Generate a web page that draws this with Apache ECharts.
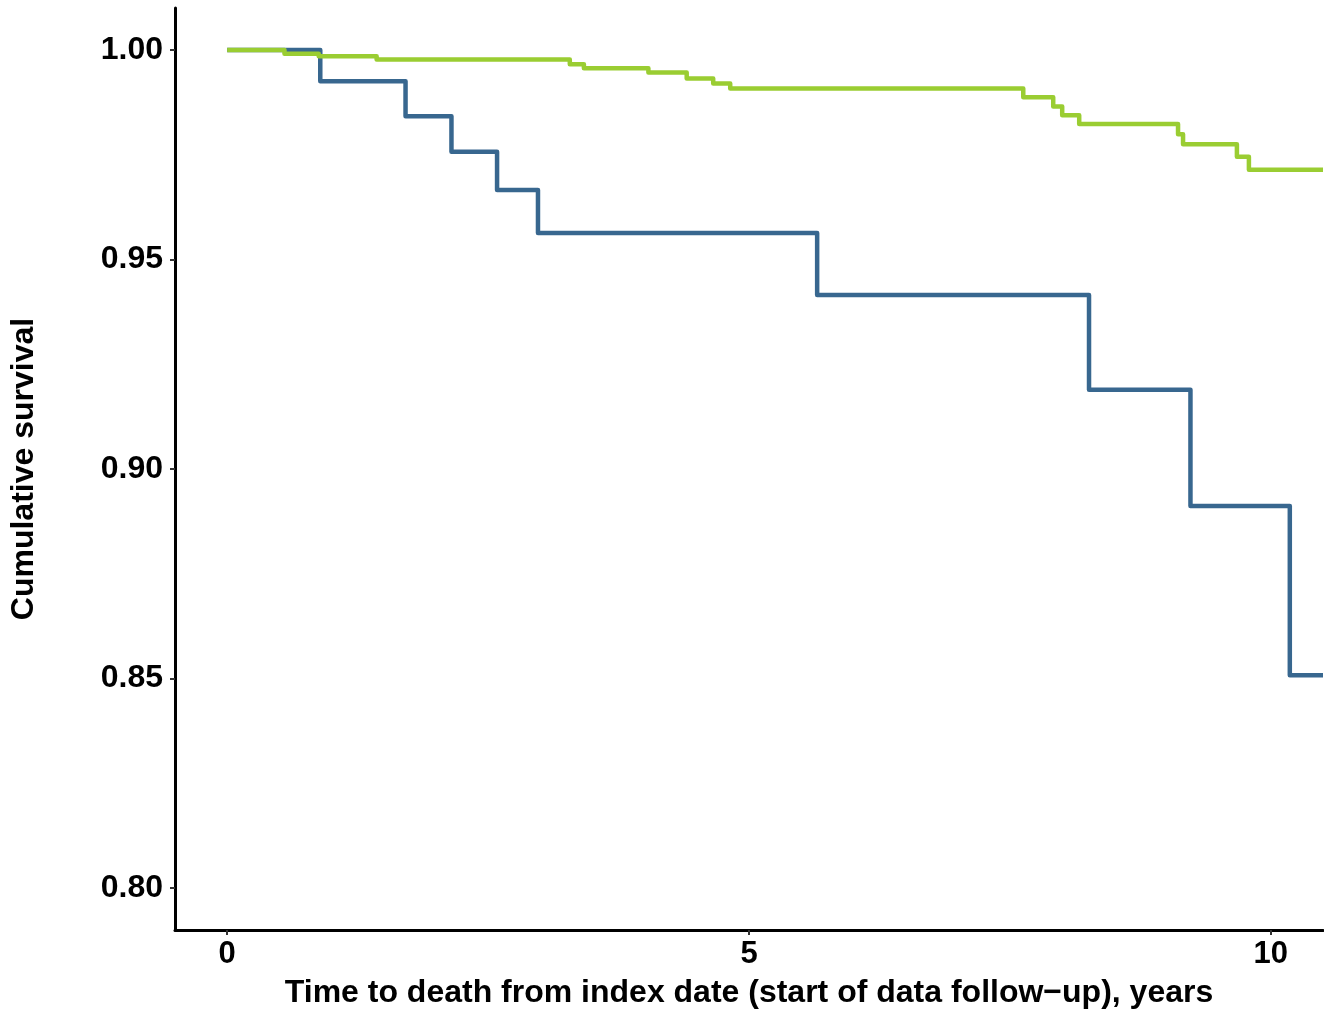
<!DOCTYPE html>
<html>
<head>
<meta charset="utf-8">
<script src="https://cdn.jsdelivr.net/npm/echarts@6/dist/echarts.min.js"></script>
<style>
html,body{margin:0;padding:0;background:#fff;}
#chart{width:1324px;height:1014px;}
</style>
</head>
<body>
<div id="chart"></div>
<script>
// Group 1 (blue): event times (years) and survival after each step
const blueTimes = [0, 0.892, 1.709, 2.149, 2.586, 2.978, 5.653, 8.258, 9.230, 10.182, 10.5];
const blueSurv  = [1.0, 0.9925, 0.9842, 0.9757, 0.9666, 0.9563, 0.9415, 0.9189, 0.8912, 0.8508, 0.8508];
// Group 2 (green)
const greenTimes = [0, 0.549, 0.877, 1.432, 3.283, 3.418, 4.036, 4.403, 4.657, 4.820, 7.628, 7.915, 8.001, 8.164, 9.111, 9.159, 9.675, 9.790, 10.5];
const greenSurv  = [1.0, 0.9991, 0.9985, 0.9977, 0.9966, 0.9956, 0.9946, 0.9932, 0.9920, 0.9908, 0.9887, 0.9865, 0.9844, 0.9823, 0.9799, 0.9775, 0.9745, 0.9714, 0.9714];
const xTicks = [0, 5, 10];
const yTicks = [0.80, 0.85, 0.90, 0.95, 1.00];
const xTitle = 'Time to death from index date (start of data follow\u2212up), years';
const yTitle = 'Cumulative survival';

const zip = (t, s) => t.map((v, i) => [v, s[i]]);
const font = '"Liberation Sans", Arial, Helvetica, sans-serif';

const chart = echarts.init(document.getElementById('chart'), null, {renderer: 'canvas'});
chart.setOption({
  animation: false,
  backgroundColor: '#ffffff',
  grid: {left: 172, right: 1, top: 8, bottom: 79, containLabel: false},
  xAxis: {
    type: 'value', min: -0.5, max: 10.5,
    name: xTitle, nameLocation: 'middle', nameGap: 47,
    nameTextStyle: {fontFamily: font, fontWeight: 'bold', fontSize: 32, color: '#000'},
    axisLine: {show: true, onZero: false, lineStyle: {color: '#000', width: 3}},
    axisTick: {show: true, customValues: xTicks, length: 5, lineStyle: {color: '#333', width: 2}},
    axisLabel: {customValues: xTicks, fontFamily: font, fontWeight: 'bold', fontSize: 31, color: '#000', margin: 9},
    splitLine: {show: false}
  },
  yAxis: {
    type: 'value', min: 0.79, max: 1.01,
    name: yTitle, nameLocation: 'middle', nameGap: 135, nameRotate: 90,
    nameTextStyle: {fontFamily: font, fontWeight: 'bold', fontSize: 32, color: '#000'},
    axisLine: {show: true, onZero: false, lineStyle: {color: '#000', width: 3}},
    axisTick: {show: true, customValues: yTicks, length: 5, lineStyle: {color: '#333', width: 2}},
    axisLabel: {customValues: yTicks, fontFamily: font, fontWeight: 'bold', fontSize: 32, color: '#000', margin: 12,
      formatter: v => v.toFixed(2)},
    splitLine: {show: false}
  },
  series: [
    {type: 'line', step: 'end', data: zip(blueTimes, blueSurv), showSymbol: false, symbol: 'none',
     lineStyle: {color: '#38678f', width: 4.5, join: 'round'}, clip: true},
    {type: 'line', step: 'end', data: zip(greenTimes, greenSurv), showSymbol: false, symbol: 'none',
     lineStyle: {color: '#9acd32', width: 4.5, join: 'round'}, clip: true}
  ]
});
</script>
</body>
</html>
